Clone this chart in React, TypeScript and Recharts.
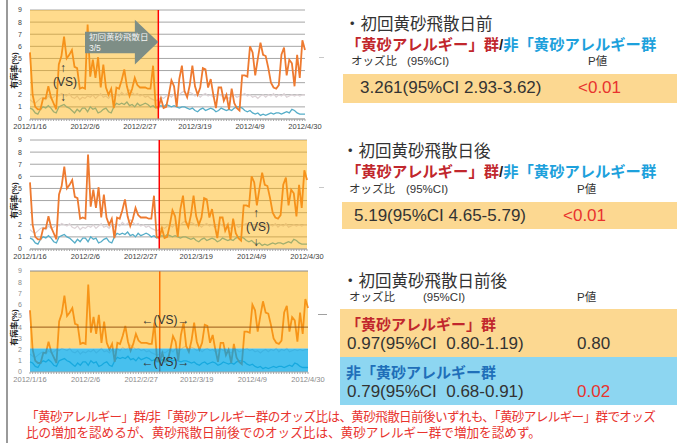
import React from "react";
import {
  LineChart,
  Line,
  XAxis,
  YAxis,
  CartesianGrid,
  ReferenceArea,
  ReferenceLine,
  ReferenceDot,
} from "recharts";

// 有病率(%) per day, 2012/1/16 .. 2012/4/30
const allergyGroup = [
  5.5, 2.0, 1.0, 0.8, 0.8, 1.7, 1.7, 2.7, 1.8, 1.3, 0.8, 4.5, 5.2, 6.8, 5.0, 5.3,
  5.7, 4.3, 4.2, 2.5, 2.6, 2.5, 7.8, 3.5, 4.9, 3.4, 5.1, 2.6, 4.5, 2.6, 2.0, 2.5,
  0.9, 2.6, 2.5, 3.2, 4.1, 2.7, 1.9, 2.5, 3.4, 2.8, 2.6, 2.6, 2.6, 2.5, 2.5, 4.4,
  1.0, 0.9, 1.7, 0.9, 1.0, 2.0, 3.2, 2.7, 1.0, 3.3, 4.4, 2.3, 1.8, 2.8, 4.4, 2.7,
  2.0, 2.6, 4.2, 4.1, 2.6, 3.3, 2.0, 0.9, 2.6, 2.6, 1.5, 2.0, 0.8, 2.5, 1.3, 0.9,
  0.7, 3.6, 3.6, 3.5, 6.0, 5.5, 3.6, 5.0, 6.3, 5.3, 5.2, 4.2, 3.0, 2.6, 2.5, 2.8,
  5.3, 5.9, 3.6, 4.9, 4.6, 2.7, 5.3, 3.4, 6.5, 5.7,
];
const nonAllergyGroup = [
  0.9, 0.8, 0.5, 0.4, 0.8, 1.0, 0.9, 1.1, 0.9, 0.6, 0.5, 1.0, 1.1, 1.2, 1.0, 0.9,
  0.7, 0.5, 0.8, 0.6, 0.9, 0.9, 0.6, 1.0, 0.8, 0.9, 0.5, 0.6, 0.8, 0.9, 0.6, 0.5,
  1.0, 1.3, 1.2, 1.3, 1.2, 1.4, 1.1, 1.2, 1.0, 1.3, 1.1, 1.2, 1.3, 1.2, 1.0, 1.1,
  0.9, 1.0, 1.1, 1.0, 1.2, 1.1, 1.0, 1.1, 1.0, 0.9, 1.0, 1.0, 0.9, 0.8, 0.9, 0.7,
  0.6, 0.8, 0.9, 0.7, 0.8, 0.9, 0.8, 0.6, 0.7, 0.9, 0.8, 0.7, 0.8, 0.7, 0.9, 1.0,
  1.0, 0.9, 0.7, 0.6, 0.7, 0.5, 0.4, 0.5, 0.3, 0.4, 0.3, 0.4, 0.5, 0.4, 0.5, 0.5,
  0.4, 0.5, 0.6, 0.5, 0.8, 0.7, 0.5, 0.4, 0.4, 0.4,
];
const overallGroup = [
  1.6, 1.4, 1.3, 1.5, 1.7, 1.8, 1.6, 1.9, 1.7, 1.8, 2.0, 1.9, 2.1, 2.0, 1.9, 2.1,
  1.8, 1.7, 1.9, 1.6, 1.8, 1.7, 1.9, 1.8, 2.0, 1.7, 1.9, 2.1, 1.8, 1.9, 1.7, 2.0,
  1.8, 2.1, 1.9, 2.2, 2.0, 2.1, 2.4, 2.2, 2.0, 2.1, 1.9, 2.0, 1.8, 1.9, 1.7, 1.6,
  1.5, 1.6, 1.8, 1.7, 1.9, 2.0, 1.8, 2.1, 1.9, 2.0, 2.2, 2.3, 2.0, 2.2, 2.1, 1.9,
  2.0, 1.8, 2.0, 2.1, 1.9, 2.0, 1.8, 1.9, 2.1, 1.9, 2.0, 1.8, 1.7, 1.9, 2.0, 1.8,
  1.9, 2.0, 2.1, 1.9, 2.0, 1.8, 1.9, 1.7, 1.9, 2.0, 1.8, 2.0, 1.9, 2.1, 1.8, 2.0,
  1.9, 2.1, 1.8, 1.9, 2.0, 1.9, 2.0, 1.9, 2.0, 2.0,
];

const xTickDays = [0, 21, 42, 63, 84, 105];
const xTickLabels = ["2012/1/16", "2012/2/6", "2012/2/27", "2012/3/19", "2012/4/9", "2012/4/30"];
const yTicks = [0, 1, 2, 3, 4, 5, 6, 7, 8, 9];
const firstDustDay = 49; // 2012/3/5

const chartData = allergyGroup.map((v, i) => ({
  day: i,
  high: v,
  low: nonAllergyGroup[i],
  all: overallGroup[i],
}));
const everyDay = chartData.map((d) => d.day);

const JP = '"Liberation Sans", "Noto Sans CJK JP", sans-serif';
const SHADE = "#FFB000";
const RED_TXT = "#E8332E";
const CHART_W = 336;

function YLabel(props: any) {
  const vb = props.viewBox || { x: 0, y: 0, width: 0, height: 0 };
  const cx = vb.x + 8;
  const cy = vb.y + vb.height / 2 + 6;
  return (
    <text
      x={cx}
      y={cy}
      transform={`rotate(-90 ${cx} ${cy})`}
      textAnchor="middle"
      dominantBaseline="central"
      fontSize={8}
      fontWeight="bold"
      fill="#222"
      fontFamily={JP}
    >
      有病率(%)
    </text>
  );
}

function DustArrow(props: any) {
  const { x, y, width, height } = props;
  const headX = x + width * 0.68;
  const bTop = y + height * 0.27;
  const bBot = y + height * 0.75;
  const pts = [
    [x, bTop],
    [headX, bTop],
    [headX, y],
    [x + width, y + height / 2],
    [headX, y + height],
    [headX, bBot],
    [x, bBot],
  ]
    .map((p) => p.join(","))
    .join(" ");
  return (
    <g>
      <polygon points={pts} fill="#7E8E86" />
      <text x={x + 4} y={y + height * 0.385} dominantBaseline="central" fontSize={8.5} fill="#F4F4F4" fontFamily={JP}>
        初回黄砂飛散日
      </text>
      <text x={x + 4} y={y + height * 0.63} dominantBaseline="central" fontSize={8.5} fill="#F4F4F4" fontFamily={JP}>
        3/5
      </text>
    </g>
  );
}

function VsVertical(props: any) {
  const { cx, cy } = props;
  const st = { fontSize: 12, fill: "#333", fontFamily: JP, textAnchor: "middle" as const, dominantBaseline: "central" as const };
  return (
    <g>
      <text x={cx - 2} y={cy - 14} {...st}>↑</text>
      <text x={cx} y={cy} {...st}>(VS)</text>
      <text x={cx - 2} y={cy + 15} {...st}>↓</text>
    </g>
  );
}

function VsHorizontal(props: any) {
  const { cx, cy } = props;
  return (
    <text x={cx} y={cy} fontSize={12} fill="#333" fontFamily={JP} textAnchor="middle" dominantBaseline="central">
      ←(VS)→
    </text>
  );
}

type MiniProps = { variant: "before" | "after" | "both"; top: number; height: number; right: number };

function MiniChart({ variant, top, height, right }: MiniProps) {
  const faded = variant === "both";
  const tickFill = faded ? "#8a8a8a" : "#404040";
  return (
    <div style={{ position: "absolute", left: 0, top }}>
      <LineChart width={CHART_W} height={height} data={chartData} margin={{ top: 10, right: CHART_W - right, bottom: 4, left: 6 }}>
        {!faded && <CartesianGrid vertical={false} stroke="#A6A6A6" strokeWidth={1} />}
        <XAxis
          type="number"
          dataKey="day"
          domain={[0, 105]}
          ticks={everyDay}
          interval={0}
          height={12}
          tickSize={2}
          tickMargin={3}
          stroke="#A6A6A6"
          tick={{ fontSize: 7.5, fill: tickFill, fontFamily: JP }}
          tickFormatter={(d: number) => {
            const k = xTickDays.indexOf(d);
            return k >= 0 ? xTickLabels[k] : "";
          }}
        />
        <YAxis
          width={24}
          domain={[0, 9]}
          ticks={yTicks}
          interval={0}
          axisLine={false}
          tickLine={false}
          tick={{ fontSize: 7, fill: tickFill, fontFamily: JP }}
          label={<YLabel />}
        />
        <Line dataKey="all" stroke="#DCD2D6" strokeWidth={1.2} dot={false} isAnimationActive={false} />
        <Line dataKey="low" stroke="#55ADC8" strokeWidth={1.3} dot={false} isAnimationActive={false} />
        <Line dataKey="high" stroke="#EE7A30" strokeWidth={1.8} dot={false} isAnimationActive={false} />

        {faded && <ReferenceLine x={firstDustDay} stroke="#FF2A00" strokeWidth={1.5} zIndex={420} />}
        {variant === "before" && (
          <ReferenceArea x1={0} x2={firstDustDay} y1={0} y2={9} fill={SHADE} fillOpacity={0.45} stroke="none" zIndex={450} />
        )}
        {variant === "after" && (
          <ReferenceArea x1={firstDustDay} x2={105} y1={0} y2={9} fill={SHADE} fillOpacity={0.45} stroke="none" zIndex={450} />
        )}
        {faded && (
          <ReferenceArea x1={0} x2={105} y1={2.1} y2={9} fill={SHADE} fillOpacity={0.5} stroke="none" zIndex={450} />
        )}
        {faded && (
          <ReferenceArea x1={0} x2={105} y1={0} y2={2.1} fill="#00A8E8" fillOpacity={0.72} stroke="none" zIndex={450} />
        )}
        {faded && <ReferenceLine y={9} stroke="#8C8C8C" strokeWidth={1} zIndex={460} />}
        {faded && <ReferenceLine y={4} stroke="#9A5A18" strokeWidth={1} zIndex={460} />}
        {!faded && <ReferenceLine x={firstDustDay} stroke="#FF0000" strokeWidth={1.5} zIndex={460} />}
        {variant === "before" && (
          <ReferenceArea x1={21} x2={firstDustDay} y1={4.5} y2={8.2} shape={<DustArrow />} zIndex={470} />
        )}
        {variant === "before" && <ReferenceDot x={13.4} y={3.06} r={0} shape={<VsVertical />} zIndex={480} />}
        {variant === "after" && <ReferenceDot x={86.4} y={1.82} r={0} shape={<VsVertical />} zIndex={480} />}
        {faded && <ReferenceDot x={51.2} y={4.63} r={0} shape={<VsHorizontal />} zIndex={480} />}
        {faded && <ReferenceDot x={51.2} y={0.9} r={0} shape={<VsHorizontal />} zIndex={480} />}
      </LineChart>
    </div>
  );
}

function T(props: {
  x: number;
  y: number;
  size: number;
  color?: string;
  bold?: boolean;
  spacing?: number;
  children: React.ReactNode;
}) {
  return (
    <div
      style={{
        position: "absolute",
        left: props.x,
        top: props.y,
        transform: "translateY(-50%)",
        fontSize: props.size,
        lineHeight: 1.2,
        color: props.color || "#333",
        fontWeight: props.bold ? "bold" : "normal",
        letterSpacing: props.spacing || 0,
        whiteSpace: "pre",
        fontFamily: JP,
      }}
    >
      {props.children}
    </div>
  );
}

function GroupLine({ y }: { y: number }) {
  return (
    <T x={346} y={y} size={15.3} bold>
      <span style={{ color: "#C1272D" }}>「黄砂アレルギー」群</span>
      <span style={{ color: "#222" }}>/</span>
      <span style={{ color: "#1DA1DC" }}>非「黄砂アレルギー群</span>
    </T>
  );
}

export default function App() {
  return (
    <div
      style={{
        position: "fixed",
        left: 0,
        top: 0,
        width: 677,
        height: 443,
        overflow: "hidden",
        background: "#fff",
        fontFamily: JP,
      }}
    >
      <div style={{ position: "absolute", left: 6, top: 0, width: 2, height: 443, background: "#9A9A9A" }} />

      <MiniChart variant="before" top={0} height={135} right={305} />
      <MiniChart variant="after" top={130} height={135} right={307} />
      <MiniChart variant="both" top={261} height={127} right={308} />

      {/* stray legend marks at the right of the charts */}
      <div style={{ position: "absolute", left: 319, top: 57, width: 5, height: 1, background: "#C8C8C8" }} />
      <div style={{ position: "absolute", left: 319, top: 187, width: 5, height: 1, background: "#C8C8C8" }} />
      <div style={{ position: "absolute", left: 318, top: 314, width: 9, height: 1, background: "#A0A0A0" }} />

      {/* panel 1 */}
      <T x={344} y={25} size={16.5}>・初回黄砂飛散日前</T>
      <GroupLine y={45} />
      <T x={351} y={62} size={11.5}>オッズ比</T>
      <T x={407} y={62} size={11.5}>(95%CI)</T>
      <T x={588} y={62} size={11.5}>P値</T>
      <div style={{ position: "absolute", left: 343, top: 74, width: 334, height: 29, background: "#FCD891" }} />
      <T x={360} y={88} size={17}>3.261(95%CI 2.93-3.62)</T>
      <T x={578} y={88} size={17} color={RED_TXT}>&lt;0.01</T>

      {/* panel 2 */}
      <T x={342} y={152} size={16.5}>・初回黄砂飛散日後</T>
      <GroupLine y={172} />
      <T x={349} y={190} size={11.5}>オッズ比</T>
      <T x={406} y={190} size={11.5}>(95%CI)</T>
      <T x={577} y={190} size={11.5}>P値</T>
      <div style={{ position: "absolute", left: 342, top: 202, width: 335, height: 27, background: "#FCD891" }} />
      <T x={354} y={216} size={17}>5.19(95%CI 4.65-5.79)</T>
      <T x={563} y={216} size={17} color={RED_TXT}>&lt;0.01</T>

      {/* panel 3 */}
      <T x={342} y={282} size={16.5}>・初回黄砂飛散日前後</T>
      <T x={349} y={298} size={11.5}>オッズ比</T>
      <T x={423} y={298} size={11.5}>(95%CI)</T>
      <T x={577} y={298} size={11.5}>P値</T>
      <div style={{ position: "absolute", left: 340, top: 309, width: 337, height: 48, background: "#FCD891" }} />
      <div style={{ position: "absolute", left: 340, top: 357, width: 337, height: 48, background: "#8DD6F1" }} />
      <T x={346} y={325} size={15} bold color="#C1272D">「黄砂アレルギー」群</T>
      <T x={347} y={344} size={17}>0.97(95%CI  0.80-1.19)</T>
      <T x={577} y={344} size={17}>0.80</T>
      <T x={346} y={373} size={15} bold color="#1F6FB9">非「黄砂アレルギー群</T>
      <T x={347} y={392} size={17}>0.79(95%CI  0.68-0.91)</T>
      <T x={577} y={392} size={17} color={RED_TXT}>0.02</T>

      {/* footnote */}
      <T x={26} y={418} size={12.6} spacing={-0.65} color={RED_TXT}>
        「黄砂アレルギー」群/非「黄砂アレルギー群のオッズ比は、黄砂飛散日前後いずれも、「黄砂アレルギー」群でオッズ
      </T>
      <T x={26} y={434} size={12.6} color={RED_TXT}>
        比の増加を認めるが、黄砂飛散日前後でのオッズ比は、黄砂アレルギー群で増加を認めず。
      </T>
    </div>
  );
}
